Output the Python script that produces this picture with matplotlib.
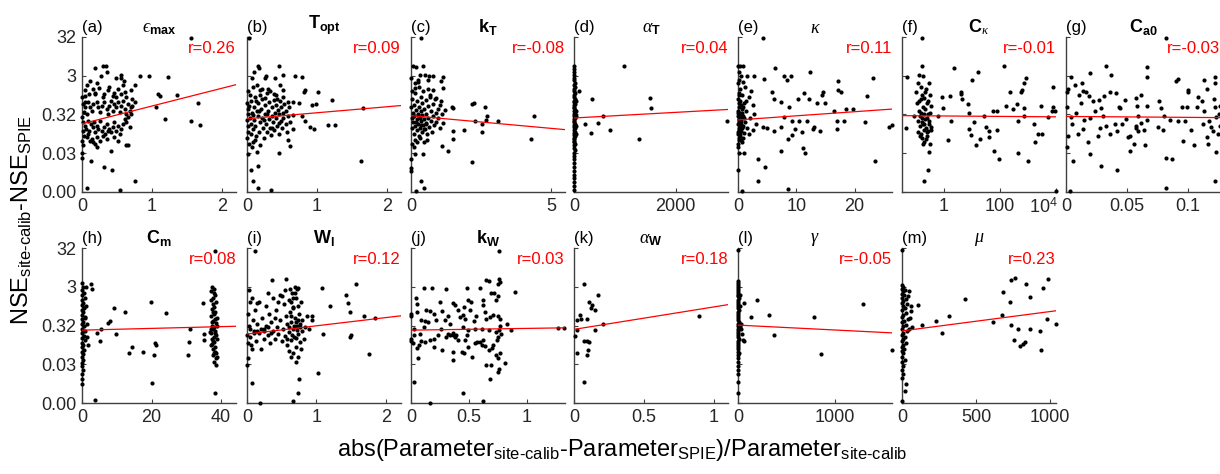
import numpy as np
import matplotlib.pyplot as plt
from matplotlib.transforms import ScaledTranslation

plt.rcParams['font.family'] = 'Liberation Sans'
plt.rcParams['mathtext.fontset'] = 'custom'
plt.rcParams['mathtext.rm'] = 'Liberation Sans'
plt.rcParams['mathtext.bf'] = 'Liberation Sans:bold'
plt.rcParams['mathtext.it'] = 'Liberation Serif:italic'

# each point: (parameter deviation, log10 of NSE difference)
# panel f uses log10 of the parameter deviation for x
pts_a = [(1.55,1.47),(0.19,0.7),(0.3,0.75),(0.34,0.75),(0.36,0.6),(0.27,0.5),(0.12,0.37),(0.55,0.53),(0.56,0.45),
         (0.49,0.45),(0.6,0.37),(0.83,0.5),(0.95,0.5),(1.23,0.46),(0.76,0.27),(0.21,0.3),(0.24,0.18),(0.18,0.06),
         (0.1,0.02),(0.04,-0.01),(0.37,0.12),(0.45,0.05),(0.49,-0.05),(0.56,0.02),(0.63,-0.05),(0.72,-0.1),(1.08,0.03),
         (1.11,-0.01),(1.36,0.01),(1.05,-0.3),(1.65,-0.2),(1.19,-0.61),(1.55,-0.66),(1.69,-0.78),(0.13,-1.7),(0.32,-1.85),
         (0.43,-1.94),(0.42,-1.45),(0.0,-1.63),(0.0,-1.5),(0.75,-2.21),(0.07,-2.4),(0.54,-2.46),(0.63,-1.28),(0.65,-1.3),
         (0.22,-1.35),(0.18,-1.26),(0.11,-1.18),
         (0.02,-0.22),(0.04,-0.31),(0.03,-0.44),(0.07,-0.48),(0.09,-0.18),(0.11,-0.31),(0.14,-0.40),(0.16,-0.22),(0.21,-0.18),
         (0.23,-0.31),(0.25,-0.44),(0.28,-0.27),(0.30,-0.05),(0.32,-0.18),(0.35,-0.35),(0.37,-0.48),(0.39,-0.27),(0.42,-0.14),
         (0.44,-0.40),(0.46,-0.22),(0.49,-0.31),(0.51,-0.18),(0.54,-0.44),(0.56,-0.27),(0.58,-0.14),(0.61,-0.35),(0.63,-0.48),
         (0.65,-0.22),(0.68,-0.40),(0.70,-0.31),(0.72,-0.27),(0.75,-0.18),(0.0,-0.57),(0.01,-0.70),(0.04,-0.79),(0.06,-0.87),
         (0.08,-0.66),(0.10,-0.92),(0.13,-0.74),(0.15,-0.83),(0.17,-0.70),(0.19,-0.96),(0.21,-0.79),(0.23,-0.87),(0.26,-0.66),
         (0.29,-0.92),(0.31,-0.83),(0.33,-1.00),(0.35,-0.74),(0.37,-0.92),(0.39,-0.87),(0.42,-0.96),(0.44,-0.83),(0.46,-0.70),
         (0.49,-0.92),(0.51,-0.79),(0.54,-1.00),(0.56,-0.87),(0.58,-0.74),(0.61,-0.61),(0.63,-0.70),(0.65,-0.57),(0.68,-0.83),
         (0.70,-0.48),(0.02,-0.92),(0.03,-1.05),(0.07,-1.09),(0.09,-1.00),(0.14,-1.13),(0.16,-1.22),(0.21,-1.09),(0.25,-1.18),
         (0.30,-1.05),(0.35,-1.13),(0.46,-1.09),(0.51,-1.18),(0.0,-1.18),(0.02,-1.30),(0.0,-0.05),(0.04,0.12),(0.07,0.25),
         (0.16,0.17),(0.18,0.04),(0.32,0.04),(0.39,0.21),(0.44,-0.01),(0.51,0.17),(0.58,0.25),(0.61,0.08),(0.70,0.12),(0.04,-0.18)]

pts_b = [(0.03,1.47),(0.15,0.75),(0.17,0.7),(0.1,0.6),(0.27,0.5),(0.25,0.45),(0.46,0.75),(0.51,0.53),(0.4,0.43),(0.69,0.5),
         (0.78,0.46),(0.83,0.12),(0.81,0.08),(1.02,0.08),(0.07,0.43),(0.14,0.25),(0.19,0.12),(0.3,0.17),(0.38,0.04),(0.43,-0.1),
         (0.52,-0.05),(0.59,-0.18),(0.66,-0.17),(0.74,-0.2),(0.93,-0.25),(0.99,-0.24),(1.21,-0.12),(1.65,-0.33),(0.78,-0.55),
         (0.83,-0.66),(0.9,-0.81),(0.95,-0.87),(1.15,-0.76),(1.26,-0.78),(0.65,-0.51),(0.66,-0.87),(0.59,-1.17),(0.61,-1.31),
         (0.45,-1.5),(0.14,-1.48),(0.02,-1.52),(0.15,-1.83),(0.06,-1.94),(0.09,-2.21),(0.15,-2.4),(0.34,-2.46),(1.63,-1.7),
         (0.0,-0.2),(0.01,-0.35),(0.02,-0.5),(0.0,-0.65),(0.01,-0.8),(0.02,-0.95),(0.0,-1.1),(0.03,-0.28),(0.04,-0.6),(0.05,-0.75),
         (0.05,-1.0),(0.06,-0.15),(0.07,-0.45),(0.08,-0.88),(0.09,-1.2),(0.1,-0.3),(0.1,-0.65),(0.11,-0.05),(0.12,-0.8),(0.13,-1.05),
         (0.14,-0.4),(0.15,-0.55),(0.16,-0.2),(0.17,-0.95),(0.18,-0.7),(0.19,-1.3),(0.2,-0.35),(0.21,-0.1),(0.22,-0.6),(0.23,-0.85),
         (0.24,-1.1),(0.25,-0.25),(0.26,-0.5),(0.27,-0.75),(0.28,0.05),(0.29,-0.95),(0.3,-0.4),(0.31,-0.62),(0.32,-0.18),(0.33,-0.85),
         (0.34,-1.02),(0.35,-0.3),(0.36,-0.55),(0.37,-0.7),(0.38,-0.12),(0.39,-0.9),(0.4,-0.45),(0.41,-0.6),(0.42,-0.25),(0.43,-0.8),
         (0.44,-0.38),(0.45,-1.0),(0.46,-0.5),(0.47,-0.15),(0.48,-0.68),(0.49,-0.3),(0.5,-0.85),(0.51,-0.45),(0.52,-0.6),(0.53,-0.22),
         (0.55,-0.75),(0.56,-0.4),(0.57,-0.95),(0.58,-0.55),(0.6,-0.3),(0.62,-0.7),(0.03,-1.25),(0.07,-1.35),(0.12,-1.15),(0.02,0.1),
         (0.04,0.0),(0.08,0.2),(0.13,-0.15),(0.18,0.0),(0.22,0.15),(0.26,-0.08),(0.33,0.1),(0.42,0.0),(0.47,0.25),(0.52,0.12),
         (0.09,-0.52),(0.17,-0.42),(0.24,-0.65),(0.29,-0.48),(0.36,-0.85),(0.45,-0.72)]

pts_c = [(0.35,1.47),(0.07,0.75),(0.17,0.73),(0.43,0.75),(0.31,0.52),(0.49,0.52),(0.65,0.5),(0.79,0.5),(1.15,0.47),(1.06,0.36),
         (1.13,0.19),(0.0,0.45),(0.25,0.38),(0.61,0.38),(0.79,0.12),(0.13,0.18),(0.67,0.01),(0.91,-0.08),(1.06,-0.14),(1.45,-0.31),
         (1.51,-0.33),(2.17,-0.24),(2.25,-0.2),(2.65,-0.3),(2.71,-0.55),(2.69,-0.64),(3.11,-0.68),(2.29,-0.66),(2.53,-0.74),
         (4.39,-0.53),(4.27,-1.13),(2.53,-0.95),(1.91,-0.89),(1.49,-0.93),(1.49,-1.13),(1.33,-1.45),(1.09,-1.32),(2.17,-1.72),
         (0.13,-1.51),(0.43,-1.51),(0.0,-1.66),(0.0,-1.87),(0.0,-1.96),(0.37,-2.21),(0.46,-2.4),(0.17,-2.47),
         (0.0,-0.3),(0.02,-0.6),(0.03,-0.85),(0.05,-0.1),(0.06,-0.45),(0.08,-0.7),(0.09,-1.0),(0.1,-0.25),(0.12,-0.55),(0.14,-0.8),
         (0.15,0.05),(0.16,-1.15),(0.18,-0.38),(0.2,-0.62),(0.21,-0.9),(0.22,-0.15),(0.24,-0.48),(0.25,-0.75),(0.27,0.2),(0.28,-1.05),
         (0.3,-0.3),(0.31,-0.58),(0.32,-0.85),(0.34,-0.05),(0.35,-0.42),(0.36,-0.68),(0.38,-0.95),(0.4,-0.2),(0.41,-0.52),(0.42,-0.78),
         (0.44,0.1),(0.45,-1.2),(0.47,-0.35),(0.48,-0.62),(0.5,-0.88),(0.52,-0.12),(0.54,-0.48),(0.55,-0.72),(0.57,-1.0),(0.6,-0.28),
         (0.62,-0.58),(0.65,-0.82),(0.68,-0.05),(0.7,-0.4),(0.72,-0.66),(0.75,-0.95),(0.78,-0.22),(0.8,-0.55),(0.83,-0.78),(0.86,-0.1),
         (0.88,-0.45),(0.9,-0.7),(0.95,-0.35),(0.98,-0.6),(1.02,-0.85),(1.05,-0.25),(1.1,-0.5),(1.15,-0.72),(1.2,-0.38),(0.05,-1.25),
         (0.1,-1.35),(0.2,-1.2),(0.13,0.3),(0.25,0.35),(0.02,0.1),(0.33,-1.1),(0.58,-1.15),(0.62,0.15),(0.07,-0.55),(0.17,-0.7),
         (0.26,-0.52),(0.37,-0.78),(0.46,-0.88),(0.52,-0.75)]

pts_d = [(90,0.1),(360,-0.1),(210,-0.74),(330,-0.98),(480,-0.72),(580,-0.53),(700,-0.89),(990,0.75),(1500,-0.08),(1520,-0.33),
         (1270,-1.14),(3020,-0.68),
         (0,0.75),(0,0.68),(0,0.6),(0,0.52),(0,0.45),(0,0.38),(10,0.32),(0,0.25),(20,0.2),(0,0.15),(0,0.1),(15,0.05),(0,0.0),
         (0,-0.05),(10,-0.1),(0,-0.14),(0,-0.18),(20,-0.22),(0,-0.26),(5,-0.3),(0,-0.34),(25,-0.38),(0,-0.42),(10,-0.46),(0,-0.5),
         (0,-0.54),(20,-0.58),(0,-0.62),(5,-0.66),(0,-0.7),(15,-0.74),(0,-0.78),(0,-0.82),(25,-0.86),(0,-0.9),(10,-0.94),(0,-0.98),
         (0,-1.02),(20,-1.06),(0,-1.1),(5,-1.14),(0,-1.18),(0,-1.22),(15,-1.26),(0,-1.3),(0,-1.36),(10,-1.42),(0,-1.5),(0,-1.58),
         (0,-1.66),(0,-1.75),(0,-1.85),(0,-1.95),(0,-2.05),(0,-2.15),(0,-2.25),(0,-2.35),(0,-2.45),(30,-0.4),(30,-0.8),(40,-0.55),
         (35,-0.15),(30,-1.0)]

pts_e = [(4.2,1.47),(6.4,0.7),(4.5,0.41),(2.7,0.5),(7.9,0.5),(9.0,0.49),(8.4,0.38),(12.4,0.59),(17.1,0.37),(23.1,0.45),
         (22.1,-0.02),(17.2,0.12),(17.7,0.08),(14.6,0.08),(14.4,0.01),(11.3,0.06),(10.3,-0.11),(12.2,-0.1),(13.5,-0.2),(14.9,-0.21),
         (18.5,-0.35),(19.7,-0.35),(16.4,-0.4),(5.9,0.08),(6.2,-0.1),(7.4,-0.18),(8.8,-0.31),(7.9,-0.57),(9.3,-0.66),(10.5,-0.68),
         (11.9,-0.66),(13.1,-0.83),(14.1,-0.92),(12.8,-0.87),(10.9,-0.96),(9.8,-0.87),(7.4,-0.83),(6.1,-0.92),(5.0,-0.84),(4.2,-0.83),
         (17.0,-0.68),(17.0,-0.87),(18.2,-0.68),(21.7,-0.7),(25.9,-0.83),(26.4,-0.78),(8.5,-1.13),(7.3,-1.43),(11.1,-1.36),
         (11.4,-1.5),(9.3,-1.02),(1.1,-1.5),(0.0,-1.94),(3.5,-1.65),(4.6,-1.85),(3.4,-2.21),(8.5,-2.41),(23.5,-1.7),(0.7,-2.47),
         (0.0,0.75),(0.3,0.75),(0.8,0.75),(0.1,0.6),(0.5,0.5),(1.5,0.5),(0.2,0.4),(0.9,0.35),(0.0,0.3),(1.2,0.2),(0.4,0.15),
         (2.2,0.1),(0.1,0.05),(0.7,0.0),(1.8,-0.05),(0.0,-0.1),(0.3,-0.15),(1.0,-0.2),(2.5,-0.25),(0.2,-0.3),(0.6,-0.35),(1.4,-0.4),
         (0.0,-0.45),(0.4,-0.5),(0.9,-0.55),(2.0,-0.6),(0.1,-0.62),(0.5,-0.67),(1.2,-0.7),(0.0,-0.75),(0.3,-0.8),(0.7,-0.82),
         (1.6,-0.85),(0.2,-0.9),(0.5,-0.93),(1.0,-0.97),(0.0,-1.0),(0.4,-1.05),(0.8,-1.1),(0.1,-1.15),(0.6,-1.2),(0.0,-1.25),
         (0.3,-0.55),(0.6,-0.6),(0.15,-0.7),(0.45,-0.75),(0.25,-0.85),(0.05,-0.4),(0.35,-0.45),(0.8,-0.3),(1.3,-0.15),(2.8,-0.5),
         (3.0,-0.75),(2.5,-0.9),(1.9,-1.0),(0.2,0.0),(0.1,-0.2),(0.55,-0.25),(0.75,-0.45),(0.05,-0.55),(0.25,-0.65),(0.65,-0.85),
         (0.35,-1.0),(0.15,-1.1),(1.1,-0.6),(0.9,-0.8),(0.05,-0.95),(0.45,-1.15),(0.0,-1.35),(0.2,-1.5)]

pts_f = [(-0.8,1.47),(-0.79,0.75),(-0.88,0.53),(-0.74,0.49),(-1.32,0.47),(-0.94,0.32),(-0.52,0.3),(-1.0,0.08),(-0.67,0.08),
         (-0.49,0.01),(-0.82,-0.09),(-0.58,-0.16),(-0.46,-0.27),(-1.08,-0.53),(-1.36,-0.85),(-0.94,-0.66),(-0.7,-0.74),(-0.46,-0.83),
         (-0.58,-0.92),(-0.82,-1.0),(-0.64,-1.13),(-0.5,-1.26),(-0.76,-1.26),(-0.52,-1.48),(-0.58,-1.94),(-0.73,-2.21),
         (-0.95,-0.2),(-0.9,-0.4),(-0.85,-0.55),(-0.8,-0.7),(-0.75,-0.3),(-0.7,-0.5),(-0.65,-0.85),(-0.6,-0.6),(-0.55,-0.75),
         (-0.5,-0.45),(-0.92,-0.95),(-0.87,-0.8),(-0.82,-0.45),(-0.78,-0.6),(-0.72,-0.9),(-0.68,-0.35),(-0.62,-1.05),(-0.57,-0.5),
         (-0.53,-0.68),(-0.48,-0.9),(-0.88,-0.15),(-0.8,0.0),(-0.73,-0.08),(-0.66,0.15),(-0.6,-0.2),(-0.83,0.22),(-0.77,-1.1),
         (-0.7,-1.2),(-0.6,-0.95),(-0.75,-0.75),(-0.68,-0.62),(-0.85,-1.05),
         (-0.23,-0.54),(-0.08,-0.05),(-0.05,-0.34),(0.13,-1.15),(0.23,-0.03),(0.25,-0.66),(0.35,0.7),(0.61,0.08),(0.61,0.02),
         (0.63,-0.11),(0.88,-0.46),(0.87,-0.22),(0.9,-0.87),(0.96,-1.03),(0.99,0.4),(1.2,0.6),(1.08,-0.7),(1.14,-1.3),(1.29,-1.13),
         (1.44,-0.54),(1.5,-0.83),(1.6,-0.92),(1.62,-1.09),(1.76,-0.4),(1.8,-1.43),(1.89,-0.4),(1.98,-1.65),(1.89,-0.9),(2.13,0.75),
         (2.37,0.07),(2.21,-0.29),(2.45,-0.35),(2.61,-0.24),(2.63,-0.66),(2.65,-1.5),(2.75,0.08),(2.77,0.14),(2.87,0.32),
         (2.87,-0.55),(2.93,0.44),(2.85,-0.33),(3.01,-1.7),(3.23,-0.74),(3.26,-1.2),(3.35,-1.0),(3.5,-1.0),(3.46,-0.27),(3.7,-0.57),
         (3.88,0.21),(3.85,-0.42),(3.89,-0.31),(3.96,-0.42),(4.0,-2.47)]

pts_g = [(0.082,1.47),(0.033,0.75),(0.066,0.73),(0.066,0.47),(0.037,0.51),(0.02,0.58),(0.004,0.47),(0.007,0.27),(0.013,0.32),
         (0.014,0.1),(0.016,0.08),(0.002,0.17),(0.011,0.0),(0.019,-0.02),(0.022,-0.14),(0.027,-0.12),(0.029,-0.33),(0.031,-0.03),
         (0.036,0.07),(0.041,0.06),(0.043,-0.31),(0.044,-0.34),(0.048,-0.12),(0.046,-0.74),(0.049,-0.61),(0.057,-0.08),
         (0.058,-0.29),(0.061,0.01),(0.059,-0.53),(0.066,-0.29),(0.066,-0.64),(0.064,-0.9),(0.065,-1.3),(0.059,-0.92),(0.057,-0.79),
         (0.052,-1.05),(0.051,-1.09),(0.052,-1.43),(0.056,-1.26),(0.042,-0.92),(0.04,-0.74),(0.036,-1.0),(0.033,-0.79),
         (0.028,-0.85),(0.026,-1.05),(0.02,-0.59),(0.02,-1.52),(0.018,-1.22),(0.014,-0.87),(0.01,-1.0),(0.002,-1.05),(0.001,-1.35),
         (0.004,-0.57),(0.006,-1.7),(0.003,-2.47),(0.029,-1.84),(0.042,-1.94),(0.057,-0.85),(0.061,-0.72),(0.076,-0.14),
         (0.078,-0.34),(0.08,-0.55),(0.079,-0.9),(0.075,-0.83),(0.082,-1.61),(0.082,-2.4),(0.087,-1.65),(0.085,-0.64),(0.092,-0.66),
         (0.09,0.36),(0.092,0.41),(0.095,-0.31),(0.097,-0.66),(0.096,-1.18),(0.1,0.12),(0.1,0.08),(0.099,-0.31),(0.102,-0.9),
         (0.105,-1.3),(0.107,-0.31),(0.108,-0.05),(0.111,-0.14),(0.112,-0.74),(0.113,0.38),(0.113,-0.4),(0.115,0.17),(0.115,-1.09),
         (0.116,-1.26),(0.117,-0.66),(0.119,-0.83),(0.12,-0.92),(0.121,-0.09),(0.122,0.47),(0.122,0.3),(0.122,-0.31),(0.123,-0.57),
         (0.123,-1.48),(0.122,-2.21),(0.124,-1.0),(0.125,-0.48),(0.126,-0.27),(0.126,-0.79),(0.001,0.08),(0.001,-0.31),
         (0.005,-0.75),(0.008,-0.45),(0.012,-0.2),(0.015,-0.65),(0.024,-0.4),(0.03,-0.55)]

pts_h = [(2.6,0.57),(3.0,0.43),(3.7,-2.43),(1.3,-0.79),(1.8,-1.01),(4.2,-0.69),(5.1,-0.9),(5.6,-0.58),(7.5,-0.43),(8.0,-0.39),
         (9.2,-0.06),(9.9,-0.72),(12.5,-0.15),(13.4,-1.21),(14.4,-1.05),(17.5,-1.18),(19.9,0.1),(20.1,-1.98),(20.6,-1.27),
         (20.9,-0.95),(21.3,-1.01),(24.2,-0.19),(30.4,-1.25),(30.9,-0.92),(31.0,-0.58),(34.7,0.07),(35.1,-0.72),(35.1,-0.88),
         (38.2,1.43),(38.2,-2.24),(38.5,-1.53),(38.7,-1.31),(38.0,-1.22),
         (0,0.6),(0.3,0.5),(0,0.42),(0.5,0.35),(0,0.28),(0.8,0.22),(0,0.15),(0.2,0.08),(0,0.02),(0.6,-0.04),(0,-0.1),(0.3,-0.16),
         (0,-0.22),(0.9,-0.28),(0,-0.34),(0.4,-0.4),(0,-0.46),(0.7,-0.52),(0,-0.58),(0.2,-0.64),(0,-0.7),(0.5,-0.76),(0,-0.82),
         (0.8,-0.88),(0,-0.94),(0.3,-1.0),(0,-1.06),(0.6,-1.12),(0,-1.18),(0.2,-1.24),(0,-1.3),(0.4,-1.38),(0,-1.46),(0,-1.55),
         (0.3,-1.65),(0,-1.75),(0,-1.88),(0,-2.0),(1.0,-0.3),(1.2,0.0),(1.0,-0.65),(1.1,0.5),(1.5,-0.45),
         (37.5,0.5),(38.0,0.45),(37.2,0.38),(38.3,0.3),(37.8,0.22),(37.0,0.15),(38.5,0.1),(37.6,0.05),(38.1,-0.02),(37.3,-0.08),
         (38.4,-0.14),(37.9,-0.2),(37.1,-0.26),(38.2,-0.32),(37.6,-0.38),(38.6,-0.44),(37.4,-0.5),(38.0,-0.55),(37.7,-0.6),
         (38.3,-0.65),(37.2,-0.7),(38.5,-0.75),(37.9,-0.8),(37.5,-0.86),(38.1,-0.92),(37.3,-0.98),(38.4,-1.05),(37.8,-1.1),
         (38.2,-1.18),(37.6,-1.25),(38.6,-1.35),(38.0,-1.45),(37.4,-0.4),(38.7,-0.5),(37.0,-0.6),(38.8,-0.3),(37.7,-0.15),
         (36.8,-0.68),(38.9,-0.85),(37.1,-1.0),(38.5,-1.2),(37.9,0.35),(38.2,-0.7),(37.6,-0.9)]

pts_i = [(0.11,1.43),(0.36,0.67),(0.56,0.7),(0.3,0.35),(0.03,0.41),(0.15,0.07),(0.69,0.5),(0.74,0.46),(0.69,0.33),(0.64,0.11),
         (0.66,-0.02),(1.08,0.46),(1.19,0.0),(1.43,0.3),(1.46,0.07),(1.49,-0.15),(1.57,0.57),(1.69,-0.25),(1.84,-0.3),(1.1,-0.72),
         (1.5,-0.75),(1.48,-0.79),(1.76,-1.24),(0.94,-0.26),(0.94,-0.36),(1.03,-1.72),(0.75,-1.87),(0.74,-2.24),(0.67,-2.45),
         (0.19,-2.5),(0.07,-1.98),(0.0,-1.53),(0.02,-1.33),(0.07,-1.1),
         (0.02,-0.2),(0.03,-0.5),(0.05,-0.8),(0.06,-1.0),(0.08,-0.35),(0.1,-0.65),(0.12,-0.1),(0.13,-0.9),(0.15,-0.45),(0.17,-0.7),
         (0.18,0.1),(0.2,-1.1),(0.22,-0.3),(0.24,-0.6),(0.25,-0.85),(0.27,0.0),(0.28,-0.5),(0.3,-0.75),(0.32,-0.2),(0.33,-0.95),
         (0.35,-0.4),(0.37,-0.65),(0.38,0.2),(0.4,-0.85),(0.42,-0.1),(0.43,-0.55),(0.45,-0.72),(0.47,0.3),(0.48,-0.35),(0.5,-0.9),
         (0.52,-0.6),(0.53,0.05),(0.55,-0.78),(0.56,-0.25),(0.57,-1.0),(0.58,-0.45),(0.6,0.15),(0.61,-0.68),(0.62,-0.15),
         (0.63,-0.88),(0.64,-0.4),(0.65,0.35),(0.66,-0.6),(0.67,-0.05),(0.68,-0.8),(0.69,-0.3),(0.7,0.2),(0.71,-1.05),(0.72,-0.5),
         (0.73,0.0),(0.74,-0.72),(0.75,-0.2),(0.76,-0.92),(0.77,-0.45),(0.78,0.1),(0.79,-0.65),(0.8,-0.35),(0.82,-0.85),
         (0.84,-0.55),(0.86,-0.25),(0.9,-0.6),(0.6,-0.55),(0.65,-0.75),(0.7,-0.4),(0.72,-0.62),(0.68,-0.5),(0.74,-0.35),
         (0.63,-0.25),(0.58,-0.85),(0.76,-0.55),(0.7,-0.82),(0.66,0.22),(0.62,0.45),(0.72,0.45),(0.55,0.42),(0.5,0.25),(0.45,0.1),
         (0.4,-0.3),(0.35,-0.7),(0.3,-0.55),(0.25,-0.65),(0.2,-0.6),(0.15,-0.65),(0.1,-0.7),(0.05,-0.6),(0.0,-0.75),(0.01,-0.95),
         (0.04,0.1),(0.07,0.2),(0.6,-1.15),(0.67,-1.2),(0.73,-1.3),(0.78,-1.1),(0.71,-1.45),(0.64,-1.3)]

pts_j = [(0.76,1.43),(0.65,0.68),(0.67,0.66),(0.76,0.71),(0.69,0.33),(0.72,0.35),(0.75,0.56),(0.77,0.63),(0.75,0.26),(0.9,0.37),
         (0.73,0.16),(0.62,0.17),(0.6,0.46),(0.48,0.46),(0.3,0.43),(0.18,0.48),(0.11,0.46),(0.13,-0.1),(0.04,0.2),(0.05,0.05),
         (0.0,-0.21),(0.0,-0.26),(0.05,-0.15),(0.09,-0.36),(0.12,-0.39),(0.15,-0.41),(0.16,-0.12),(0.2,-0.21),(0.22,-0.36),
         (0.25,0.11),(0.27,-0.13),(0.29,-0.36),(0.32,-0.26),(0.34,-0.45),(0.36,0.07),(0.38,0.03),(0.41,-0.1),(0.42,-0.29),
         (0.45,-0.23),(0.46,-0.02),(0.47,-0.34),(0.49,0.16),(0.51,-0.1),(0.52,0.11),(0.54,-0.39),(0.56,-0.26),(0.62,0.03),
         (0.64,-0.15),(0.65,-0.32),(0.68,-0.28),(0.71,-0.23),(0.75,-0.26),(0.77,-0.34),(0.83,-0.47),(0.86,-0.62),(1.27,-0.57),
         (1.32,-0.57),(0.0,-0.86),(0.0,-0.9),(0.02,-0.96),(0.05,-1.09),(0.06,-1.33),(0.07,-1.01),(0.09,-0.9),(0.12,-0.92),
         (0.16,-0.88),(0.2,-0.86),(0.2,-1.05),(0.27,-1.14),(0.3,-0.79),(0.32,-0.71),(0.34,-0.75),(0.36,-0.75),(0.36,-1.18),
         (0.38,-0.79),(0.41,-0.88),(0.36,-1.4),(0.44,-1.18),(0.46,-1.22),(0.47,-0.88),(0.48,-0.75),(0.49,-1.05),(0.53,-1.31),
         (0.55,-0.96),(0.57,-0.92),(0.6,-0.92),(0.61,-1.01),(0.62,-0.88),(0.64,-1.03),(0.65,-1.53),(0.69,-1.53),(0.67,-1.14),
         (0.7,-1.09),(0.71,-1.01),(0.73,-1.27),(0.74,-0.88),(0.75,-0.79),(0.76,-0.62),(0.75,-1.7),(0.76,-1.61),(0.68,-1.87),
         (0.75,-1.33),(0.77,-1.22),(0.81,-1.48),(0.03,-1.97),(0.45,-2.24),(0.16,-2.49),(0.62,-2.45),(0.78,-0.71),(0.77,-0.52),
         (0.73,-0.66),(0.67,-0.62),(0.61,-0.58),(0.55,-0.6),(0.49,-0.62),(0.45,-0.55),(0.39,-0.75),(0.36,-0.69),(0.26,-0.6),
         (0.23,-0.75),(0.11,-0.55),(0.08,-0.71),(0.03,-0.75),(0.03,-0.6)]

pts_k = [(0.07,0.57),(0.17,0.3),(0.11,0.11),(0.12,-0.04),(0.15,-0.1),(0.13,0.04),(0.04,-0.23),(0.05,-0.32),(0.09,-0.34),
         (0.02,-0.36),(0.02,-0.62),(0.15,-0.62),(0.21,-0.47),(0.01,-0.78),(0.07,-0.9),(0.09,-0.9),(0.11,-0.92),(0.1,-1.14),
         (0.09,-1.25),(0.02,-1.21),(0.07,-1.97),(0.89,-0.25)]

pts_l = [(65,0.07),(200,0.16),(135,-0.29),(315,-0.23),(370,-0.75),(780,-0.29),(855,-1.24),(1290,0.05),(1590,-1.12),(48,-0.88),
         (65,-0.9),(38,-0.71),(30,-0.45),
         (0,1.45),(0,0.65),(0,0.6),(0,0.55),(0,0.5),(0,0.45),(0,0.4),(5,0.35),(0,0.3),(0,0.25),(10,0.2),(0,0.15),(0,0.1),(5,0.05),
         (0,0.0),(0,-0.05),(15,-0.1),(0,-0.15),(0,-0.2),(5,-0.25),(0,-0.3),(0,-0.35),(10,-0.4),(0,-0.45),(0,-0.5),(20,-0.55),
         (0,-0.6),(0,-0.65),(5,-0.7),(0,-0.75),(0,-0.8),(10,-0.85),(0,-0.9),(0,-0.95),(0,-1.0),(5,-1.05),(0,-1.1),(0,-1.18),
         (0,-1.26),(0,-1.35),(0,-1.45),(0,-1.55),(0,-1.65),(0,-1.75),(0,-1.97),(0,-2.25),(25,0.0),(30,-0.6),(20,0.3),(15,-1.2)]

pts_m = [(105,0.03),(133,-0.49),(227,-0.38),(268,-0.69),(315,-0.25),(428,0.19),(615,-0.41),(676,-0.23),(680,0.37),(732,0.11),
         (735,0.67),(761,0.72),(739,-0.49),(755,-0.88),(782,-0.58),(795,-1.03),(820,-0.98),(833,-0.93),(836,0.57),(863,0.24),
         (866,-0.58),(932,-0.64),(939,-1.14),(950,0.48),(980,-0.34),(984,0.7),(1040,-0.45),
         (0,1.45),(0,0.55),(10,0.5),(0,0.45),(20,0.42),(5,0.38),(0,0.32),(15,0.28),(50,0.4),(0,0.22),(25,0.18),(10,0.12),(0,0.08),
         (35,0.05),(5,0.0),(20,-0.05),(0,-0.1),(60,-0.12),(30,-0.18),(10,-0.22),(0,-0.28),(40,-0.32),(15,-0.38),(0,-0.42),
         (25,-0.48),(5,-0.52),(70,-0.55),(0,-0.6),(35,-0.65),(10,-0.7),(0,-0.75),(20,-0.8),(5,-0.85),(0,-0.9),(30,-0.95),
         (10,-1.0),(0,-1.05),(15,-1.1),(0,-1.15),(5,-1.22),(0,-1.3),(20,-1.38),(0,-1.45),(10,-1.55),(0,-1.65),(5,-1.75),
         (0,-1.85),(30,-2.0),(20,-2.2),(0,-2.45),(45,-0.6),(55,-0.3),(60,0.0),(40,0.25)]

letters = ['a', 'b', 'c', 'd', 'e', 'f', 'g', 'h', 'i', 'j', 'k', 'l', 'm']
titles = ['$\u03f5_{\\mathbf{max}}$', r'$\mathbf{T_{opt}}$', r'$\mathbf{k_T}$', r'$\alpha_{\mathbf{T}}$', r'$\kappa$',
          r'$\mathbf{C}_{\kappa}$', r'$\mathbf{C_{a0}}$', r'$\mathbf{C_m}$', r'$\mathbf{W_l}$', r'$\mathbf{k_W}$',
          r'$\alpha_{\mathbf{W}}$', r'$\gamma$', r'$\mu$']
r_values = [0.26, 0.09, -0.08, 0.04, 0.11, -0.01, -0.03, 0.08, 0.12, 0.03, 0.18, -0.05, 0.23]
# linear fit of log10(dNSE) against the parameter deviation (panel f: against its log10)
fit_b0 = [-0.74, -0.61, -0.53, -0.59, -0.64, -0.538, -0.55, -0.62, -0.72, -0.62, -0.60, -0.49, -0.64]
fit_b1 = [0.459, 0.155, -0.0655, 7.26e-5, 0.0106, -0.0055, -0.24, 0.00226, 0.212, 0.045, 0.58, -1.26e-4, 5.0e-4]
xlims = [(0, 2.2), (0, 2.2), (0, 5.5), (0, 3030), (0, 26.4), (10**-1.5, 1e4), (0, 0.126),
         (0, 44.3), (0, 2.22), (0, 1.33), (0, 1.1), (0, 1590), (0, 1040)]
xticks = [[0, 1, 2], [0, 1, 2], [0, 5], [0, 2000], [0, 10, 20], [1, 100, 1e4], [0, 0.05, 0.1],
          [0, 20, 40], [0, 1, 2], [0, 0.5, 1], [0, 0.5, 1], [0, 1000], [0, 500, 1000]]
xticklabels = [['0', '1', '2'], ['0', '1', '2'], ['0', '5'], ['0', '2000'], ['0', '10', '20'], ['1', '100', r'$10^4$'],
               ['0', '0.05', '0.1'], ['0', '20', '40'], ['0', '1', '2'], ['0', '0.5', '1'], ['0', '0.5', '1'],
               ['0', '1000'], ['0', '500', '1000']]
yticks = [10**-2.5, 10**-1.5, 10**-0.5, 10**0.5, 10**1.5]
yticklabels = ['0.00', '0.03', '0.32', '3', '32']
points = [pts_a, pts_b, pts_c, pts_d, pts_e, pts_f, pts_g, pts_h, pts_i, pts_j, pts_k, pts_l, pts_m]

W, H = 1220, 474
fig = plt.figure(figsize=(W / 100, H / 100), dpi=100)
col_left = [82, 247, 411, 574, 738, 902, 1066]
row_top = [37, 248]
axw, axh = 154, 155
axis_col = '#404040'

for k in range(13):
    row, col = divmod(k, 7)
    ax = fig.add_axes([col_left[col] / W, 1 - (row_top[row] + axh) / H, axw / W, axh / H])
    pts = np.array(points[k], dtype=float)
    is_logx = (letters[k] == 'f')
    x = 10 ** pts[:, 0] if is_logx else pts[:, 0]
    y = 10 ** pts[:, 1]
    ax.set_yscale('log')
    if is_logx:
        ax.set_xscale('log')
    ax.scatter(x, y, s=9, color='black', linewidths=0, clip_on=False, zorder=3)

    lo, hi = xlims[k]
    if is_logx:
        xf = np.logspace(np.log10(lo), np.log10(hi), 50)
        yf = 10 ** (fit_b0[k] + fit_b1[k] * np.log10(xf))
    else:
        xf = np.linspace(lo, hi, 50)
        yf = 10 ** (fit_b0[k] + fit_b1[k] * xf)
    ax.plot(xf, yf, color='red', lw=0.9, zorder=4)

    ax.set_xlim(lo, hi)
    ax.set_ylim(10**-2.5, 10**1.5)
    ax.minorticks_off()
    ax.set_xticks(xticks[k])
    ax.set_xticklabels(xticklabels[k])
    ax.set_yticks(yticks)
    if col == 0:
        ax.set_yticklabels(yticklabels)
    else:
        ax.set_yticklabels([])
    ax.tick_params(direction='in', length=3, width=0.8, colors=axis_col, labelsize=13, labelcolor='#262626', pad=4)
    if is_logx:
        # the 10^4 label sits a little left of its tick, as in the original
        lab = ax.get_xticklabels()[-1]
        lab.set_transform(lab.get_transform() + ScaledTranslation(-9 / 72, 0, fig.dpi_scale_trans))
    for side in ['top', 'right']:
        ax.spines[side].set_visible(False)
    for side in ['left', 'bottom']:
        ax.spines[side].set_color(axis_col)
        ax.spines[side].set_linewidth(1.0)

    ax.set_title(titles[k], fontsize=13, pad=3)
    ax.text(0.0, 1.01, '(%s)' % letters[k], transform=ax.transAxes, ha='left', va='bottom', fontsize=12)
    ax.text(1.0, 0.925, 'r=%.2f' % r_values[k], transform=ax.transAxes, ha='right', va='center',
            fontsize=12, color='red')

fig.text(0.018, 0.535, r'NSE$_{\text{site-calib}}$-NSE$_{\text{SPIE}}$', rotation=90, ha='center', va='center',
         fontsize=17)
fig.text(0.51, 0.05, r'abs(Parameter$_{\text{site-calib}}$-Parameter$_{\text{SPIE}}$)/Parameter$_{\text{site-calib}}$',
         ha='center', va='center', fontsize=17)

fig.savefig('out.png', dpi=100)
